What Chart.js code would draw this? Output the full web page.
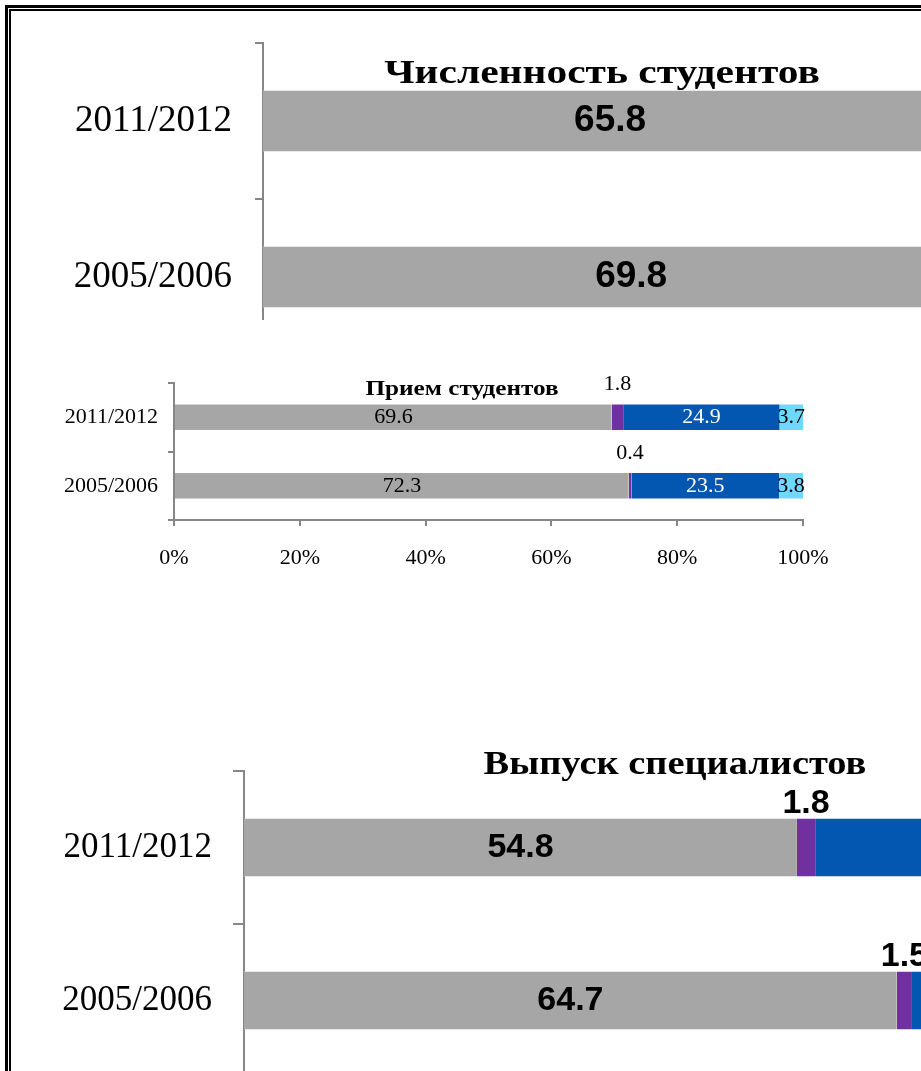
<!DOCTYPE html>
<html>
<head>
<meta charset="utf-8">
<script src="https://cdn.jsdelivr.net/npm/chart.js@4.4.0/dist/chart.umd.min.js"></script>
<style>
html, body { margin: 0; padding: 0; background: #fff; overflow: hidden; width: 921px; height: 1071px; }
.frame1 { position: absolute; left: 5px; top: 5px; width: 2000px; height: 2000px; border-left: 3px solid #000; border-top: 3px solid #000; }
.frame2 { position: absolute; left: 9px; top: 9px; width: 2000px; height: 2000px; border-left: 2px solid #000; border-top: 2px solid #000; }
.box { position: absolute; overflow: hidden; background: #fff; }
.title { position: absolute; font-family: "Liberation Serif", "Times New Roman", serif; font-weight: bold; white-space: nowrap; color: #000; }
</style>
</head>
<body>
<div class="frame1"></div>
<div class="frame2"></div>

<div class="box" style="left:20px; top:30px; width:1300px; height:290px;"><canvas id="studChart" width="1300" height="340"></canvas></div>
<div class="title" style="left:602px; top:72px; font-size:34px; transform:translate(-50%,-50%) scaleX(1.22);">Численность студентов</div>

<div class="box" style="left:20px; top:360px; width:840px; height:220px;"><canvas id="admChart" width="840" height="220"></canvas></div>
<div class="title" style="left:462px; top:388px; font-size:21px; transform:translate(-50%,-50%) scaleX(1.2);">Прием студентов</div>

<div class="box" style="left:20px; top:700px; width:1260px; height:380px;"><canvas id="gradChart" width="1260" height="380"></canvas></div>
<div class="title" style="left:675px; top:763px; font-size:34px; transform:translate(-50%,-50%) scaleX(1.13);">Выпуск специалистов</div>

<script>
var years = ['2011/2012', '2005/2006'];

// Численность студентов (видна только первая часть)
var studGray = [65.8, 69.8];

// Прием студентов
var admGray = [69.6, 72.3];
var admPurple = [1.8, 0.4];
var admBlue = [24.9, 23.5];
var admLight = [3.7, 3.8];

// Выпуск специалистов (правая часть обрезана, синие - оценка)
var gradGray = [54.8, 64.7];
var gradPurple = [1.8, 1.5];
var gradBlue = [40.0, 30.4];
var gradLight = [3.4, 3.4];

var xTicks = [0, 20, 40, 60, 80, 100];

var SERIF = '"Liberation Serif", "Times New Roman", serif';
var SANS = '"Liberation Sans", Arial, sans-serif';
var axisGrey = '#868686';
var edge = 'rgba(255,255,255,0.45)';

var barLabels = {
	id: 'barLabels',
	afterDatasetsDraw: function(chart) {
		var ctx = chart.ctx;
		chart.data.datasets.forEach(function(ds, i) {
			if (!ds.lbl) return;
			var meta = chart.getDatasetMeta(i);
			meta.data.forEach(function(bar, j) {
				var p = bar.getProps(['x', 'y', 'base', 'height'], true);
				var x = (p.x + p.base) / 2;
				var y = p.y;
				if (ds.lbl.pos === 'above') y = p.y - p.height / 2 - ds.lbl.lift;
				ctx.save();
				ctx.font = ds.lbl.font;
				ctx.fillStyle = ds.lbl.color;
				ctx.textAlign = 'center';
				ctx.textBaseline = 'middle';
				ctx.fillText(ds.data[j].toFixed(1), x, y);
				ctx.restore();
			});
		});
	}
};

function noPad(scale) {
	scale.paddingTop = 0;
	scale.paddingBottom = 0;
	scale.paddingLeft = 0;
	scale.paddingRight = 0;
}

function yAxis(width, fontSize, pad, tickLen) {
	return {
		type: 'category',
		stacked: true,
		afterFit: function(scale) { scale.width = width; noPad(scale); },
		ticks: { color: '#000', font: { family: SERIF, size: fontSize }, padding: pad },
		grid: { offset: true, drawOnChartArea: false, drawTicks: true, tickLength: tickLen, color: axisGrey, lineWidth: 2 },
		border: { color: axisGrey, width: 2 }
	};
}

function seg(data, color, lbl, pct) {
	return {
		data: data,
		backgroundColor: color,
		borderColor: edge,
		borderWidth: { top: 1, bottom: 1, left: 0, right: 0 },
		borderSkipped: false,
		barPercentage: pct,
		categoryPercentage: 1.0,
		lbl: lbl
	};
}

var baseOpts = {
	indexAxis: 'y',
	responsive: false,
	animation: false,
	plugins: { legend: { display: false }, tooltip: { enabled: false }, title: { display: false } }
};

// 1. Численность студентов
new Chart(document.getElementById('studChart'), {
	type: 'bar',
	data: {
		labels: years,
		datasets: [
			seg(studGray, '#a6a6a6', { pos: 'center', color: '#000', font: 'bold 37px ' + SANS }, 0.4)
		]
	},
	options: Object.assign({}, baseOpts, {
		layout: { padding: { left: 0, top: 13, right: 2, bottom: 15 } },
		scales: {
			x: { display: false, stacked: true, min: 0, max: 100 },
			y: yAxis(243, 37, 23, 8)
		}
	}),
	plugins: [barLabels]
});

// 2. Прием студентов
new Chart(document.getElementById('admChart'), {
	type: 'bar',
	data: {
		labels: years,
		datasets: [
			seg(admGray, '#a6a6a6', { pos: 'center', color: '#000', font: '22px ' + SERIF }, 0.4),
			seg(admPurple, '#7030a0', { pos: 'above', lift: 19, color: '#000', font: '22px ' + SERIF }, 0.4),
			seg(admBlue, '#0457b0', { pos: 'center', color: '#fff', font: '22px ' + SERIF }, 0.4),
			seg(admLight, '#6fd8fc', { pos: 'center', color: '#000', font: '22px ' + SERIF }, 0.4)
		]
	},
	options: Object.assign({}, baseOpts, {
		layout: { padding: { left: 0, top: 23, right: 57, bottom: 0 } },
		scales: {
			x: {
				stacked: true, min: 0, max: 100,
				afterFit: function(scale) { scale.height = 60; noPad(scale); },
				afterBuildTicks: function(scale) { scale.ticks = xTicks.map(function(v) { return { value: v }; }); },
				ticks: { color: '#000', font: { family: SERIF, size: 22 }, padding: 19, callback: function(v) { return v + '%'; } },
				grid: { drawOnChartArea: false, drawTicks: true, tickLength: 6, color: axisGrey, lineWidth: 2 },
				border: { color: axisGrey, width: 2 }
			},
			y: yAxis(154, 22, 10, 6)
		}
	}),
	plugins: [barLabels]
});

// 3. Выпуск специалистов
new Chart(document.getElementById('gradChart'), {
	type: 'bar',
	data: {
		labels: years,
		datasets: [
			seg(gradGray, '#a6a6a6', { pos: 'center', color: '#000', font: 'bold 34px ' + SANS }, 0.39),
			seg(gradPurple, '#7030a0', { pos: 'above', lift: 14, color: '#000', font: 'bold 34px ' + SANS }, 0.39),
			seg(gradBlue, '#0457b0', { pos: 'center', color: '#fff', font: 'bold 34px ' + SANS }, 0.39),
			seg(gradLight, '#6fd8fc', { pos: 'center', color: '#000', font: 'bold 34px ' + SANS }, 0.39)
		]
	},
	options: Object.assign({}, baseOpts, {
		layout: { padding: { left: 0, top: 71, right: 27, bottom: 3 } },
		scales: {
			x: { display: false, stacked: true, min: 0, max: 100 },
			y: yAxis(224, 35, 21, 11)
		}
	}),
	plugins: [barLabels]
});
</script>
</body>
</html>
